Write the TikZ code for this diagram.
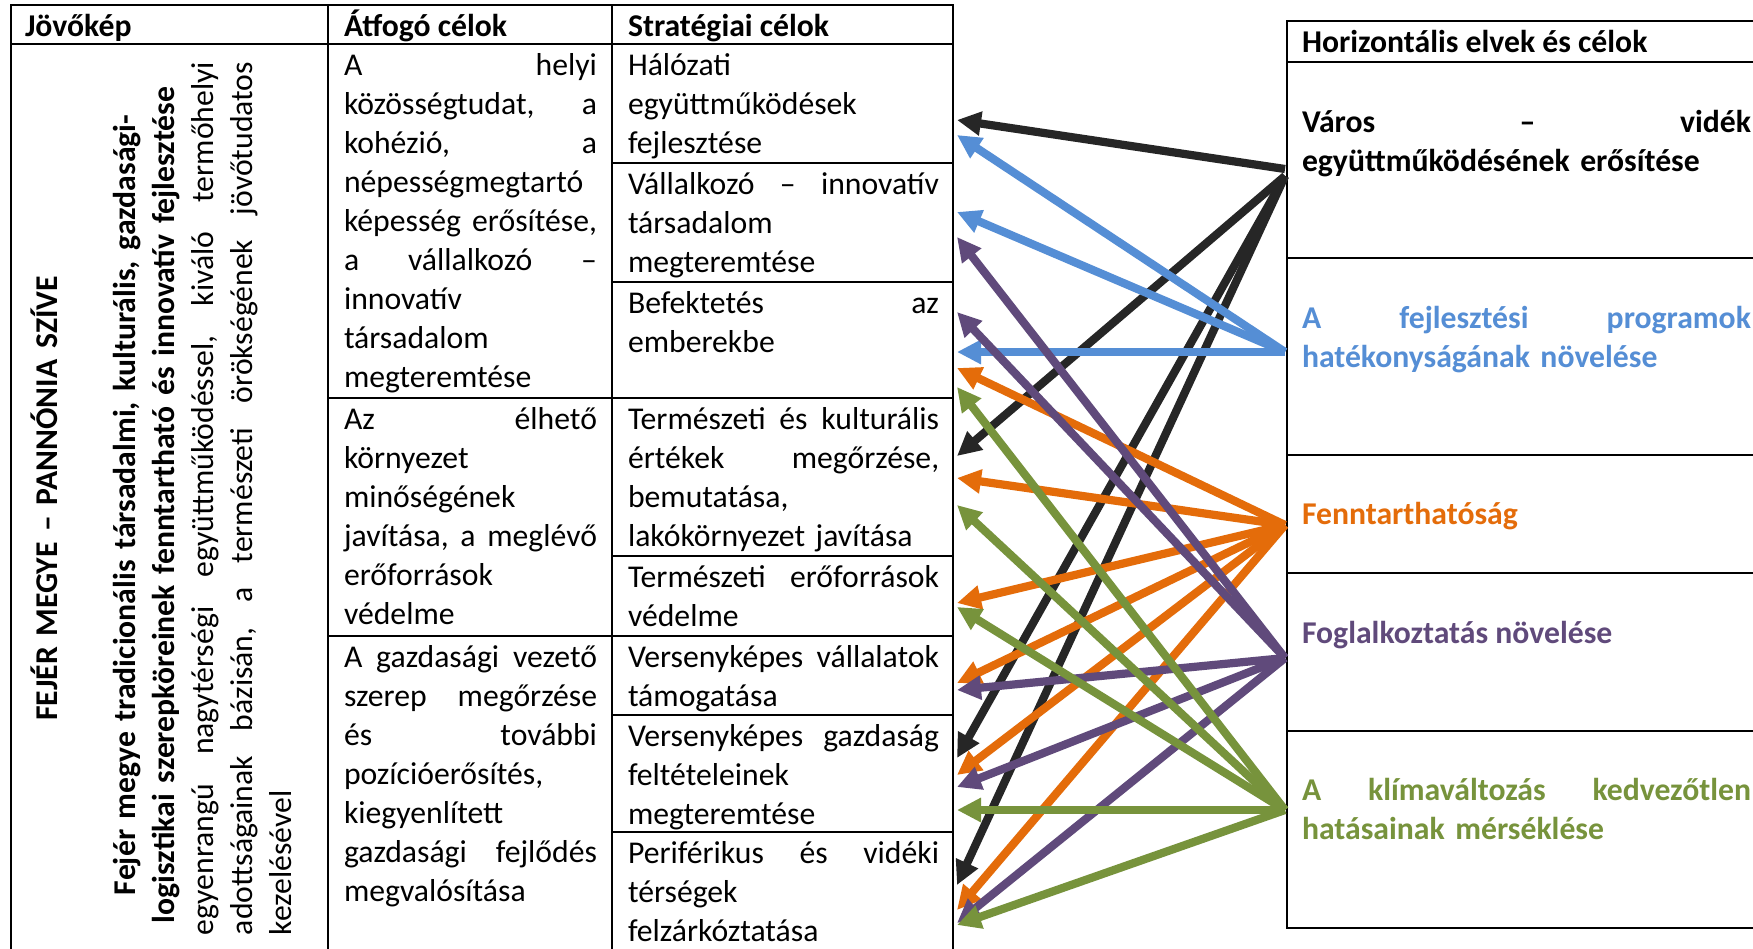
\documentclass[tikz,border=0pt]{standalone}
\usepackage{fontspec}
\setmainfont{Carlito}
\usetikzlibrary{arrows.meta}
\definecolor{cblack}{HTML}{262626}
\definecolor{cblue}{HTML}{558ED5}
\definecolor{corange}{HTML}{E46C0A}
\definecolor{cpurple}{HTML}{604A7B}
\definecolor{cgreen}{HTML}{77933C}
\newcommand{\fs}{\fontsize{31.7}{39}\selectfont}
\newcommand{\jl}[1]{\leavevmode\hbox to\linewidth{#1}}
\newcommand{\lline}[1]{\leavevmode\hbox{#1}}
\begin{document}
\begin{tikzpicture}[x=1pt,y=-1pt,
  tline/.style={line width=2.7pt, line cap=rect},
  cell/.style={anchor=base west, inner sep=0pt, outer sep=0pt, align=left, font=\fs},
  bcell/.style={cell, font=\fs\bfseries},
  arr/.style={line width=8.2pt, -{Triangle[length=24pt,width=23pt]}}]
\fill[white] (0,0) rectangle (1753,948);
\useasboundingbox (0,0) rectangle (1753,948);
\begin{scope}
\clip (0,0) rectangle (1753,948);
% left table
\draw[tline] (11,960) -- (11,5) -- (953,5) -- (953,960);
\draw[tline] (11,44) -- (953,44);
\draw[tline] (328,5) -- (328,960);
\draw[tline] (612,5) -- (612,960);
\draw[tline] (328,398) -- (953,398);
\draw[tline] (328,636) -- (953,636);
\foreach \yy in {163,282,556,715,832} \draw[tline] (612,\yy) -- (953,\yy);
% right table
\draw[tline] (1760,21) -- (1287,21) -- (1287,928) -- (1760,928);
\foreach \yy in {62,258,455,573,731} \draw[tline] (1287,\yy) -- (1760,\yy);
\end{scope}

% headers
\node[bcell] (hJ) at (25,36) {Jövőkép};
\node[bcell] (hA) at (344,36) {Átfogó célok};
\node[bcell] (hS) at (628,36) {Stratégiai célok};
\node[bcell] (hH) at (1302,52) {Horizontális elvek és célok};

% vision (rotated)
\node[cell, rotate=90, text width=873pt] (vision) at (57,935) {%
\jl{\hfil\bfseries FEJÉR MEGYE – PANNÓNIA SZÍVE\hfil}\\
\lline{}\\
\jl{\hfil\bfseries Fejér megye tradicionális társadalmi, kulturális, gazdasági-\hfil\hskip13pt}\\
\jl{\hfil\bfseries logisztikai szerepköreinek fenntartható és innovatív fejlesztése\hfil\hskip13pt}\\
\jl{egyenrangú\hfill nagytérségi\hfill együttműködéssel,\hfill kiváló\hfill termőhelyi}\\
\jl{adottságainak\hfill bázisán,\hfill a\hfill természeti\hfill örökségének\hfill jövőtudatos}\\
\lline{kezelésével}};

% overarching goals
\node[cell, text width=253pt] (A1) at (344,75) {%
\jl{A\hfill helyi}\\
\jl{közösségtudat,\hfill a}\\
\jl{kohézió,\hfill a}\\
\lline{népességmegtartó}\\
\jl{képesség\hfill erősítése,}\\
\jl{a\hfill vállalkozó\hfill –}\\
\lline{innovatív}\\
\lline{társadalom}\\
\lline{megteremtése}};
\node[cell, text width=253pt] (A2) at (344,429) {%
\jl{Az\hfill élhető}\\
\lline{környezet}\\
\lline{minőségének}\\
\jl{javítása,\hfill a\hfill meglévő}\\
\lline{erőforrások}\\
\lline{védelme}};
\node[cell, text width=253pt] (A3) at (344,667) {%
\jl{A\hfill gazdasági\hfill vezető}\\
\jl{szerep\hfill megőrzése}\\
\jl{és\hfill további}\\
\lline{pozícióerősítés,}\\
\lline{kiegyenlített}\\
\jl{gazdasági\hfill fejlődés}\\
\lline{megvalósítása}};

% strategic goals
\node[cell, text width=311pt] (S1) at (628,75) {%
\lline{Hálózati}\\ \lline{együttműködések}\\ \lline{fejlesztése}};
\node[cell, text width=311pt] (S2) at (628,194) {%
\jl{Vállalkozó\hfill –\hfill innovatív}\\ \lline{társadalom}\\ \lline{megteremtése}};
\node[cell, text width=311pt] (S3) at (628,313) {%
\jl{Befektetés\hfill az}\\ \lline{emberekbe}};
\node[cell, text width=311pt] (S4) at (628,429) {%
\jl{Természeti\hfill és\hfill kulturális}\\ \jl{értékek\hfill megőrzése,}\\ \lline{bemutatása,}\\ \lline{lakókörnyezet javítása}};
\node[cell, text width=311pt] (S5) at (628,587) {%
\jl{Természeti\hfill erőforrások}\\ \lline{védelme}};
\node[cell, text width=311pt] (S6) at (628,667) {%
\jl{Versenyképes\hfill vállalatok}\\ \lline{támogatása}};
\node[cell, text width=311pt] (S7) at (628,746) {%
\jl{Versenyképes\hfill gazdaság}\\ \lline{feltételeinek}\\ \lline{megteremtése}};
\node[cell, text width=311pt] (S8) at (628,863) {%
\jl{Periférikus\hfill és\hfill vidéki}\\ \lline{térségek}\\ \lline{felzárkóztatása}};

% horizontal principles
\node[bcell, text width=449pt] (R1) at (1302,132) {%
\jl{Város\hfill –\hfill vidék}\\ \lline{együttműködésének erősítése}};
\node[bcell, text width=449pt, text=cblue] (R2) at (1302,328) {%
\jl{A\hfill fejlesztési\hfill programok}\\ \lline{hatékonyságának növelése}};
\node[bcell, text=corange] (R3) at (1302,524) {Fenntarthatóság};
\node[bcell, text=cpurple] (R4) at (1302,643) {Foglalkoztatás növelése};
\node[bcell, text width=449pt, text=cgreen] (R5) at (1302,800) {%
\jl{A\hfill klímaváltozás\hfill kedvezőtlen}\\ \lline{hatásainak mérséklése}};

% arrow sources
\coordinate (k1) at (1285,169);
\coordinate (k2) at (1285,176);
\coordinate (bS) at (1285,352);
\coordinate (oS) at (1285,525);
\coordinate (pS) at (1285,658);
\coordinate (gS) at (1285,810);
% targets
\coordinate (kt1) at (957,120);
\coordinate (kt2) at (957,456);
\coordinate (kt3) at (957,758);
\coordinate (kt4) at (957,885);
\coordinate (bt1) at (957,135);
\coordinate (bt2) at (957,212);
\coordinate (bt3) at (957,352);
\coordinate (ot1) at (957,368);
\coordinate (ot2) at (957,478);
\coordinate (ot3) at (957,603);
\coordinate (ot4) at (957,683);
\coordinate (ot5) at (957,775);
\coordinate (ot6) at (957,910);
\coordinate (pt1) at (957,237);
\coordinate (pt2) at (957,312);
\coordinate (pt3) at (957,690);
\coordinate (pt4) at (957,787);
\coordinate (pt5) at (957,923);
\coordinate (gt1) at (957,387);
\coordinate (gt2) at (957,505);
\coordinate (gt3) at (957,607);
\coordinate (gt4) at (957,810);
\coordinate (gt5) at (957,925);

\draw[arr, cblack] (k1) -- (kt1);
\foreach \t in {kt2,kt3,kt4} \draw[arr, cblack] (k2) -- (\t);
\foreach \t in {bt1,bt2,bt3} \draw[arr, cblue] (bS) -- (\t);
\foreach \t in {ot1,ot2,ot3,ot4,ot5,ot6} \draw[arr, corange] (oS) -- (\t);
\foreach \t in {pt1,pt2,pt3,pt4,pt5} \draw[arr, cpurple] (pS) -- (\t);
\foreach \t in {gt1,gt2,gt3,gt4,gt5} \draw[arr, cgreen] (gS) -- (\t);
\end{tikzpicture}
\end{document}
